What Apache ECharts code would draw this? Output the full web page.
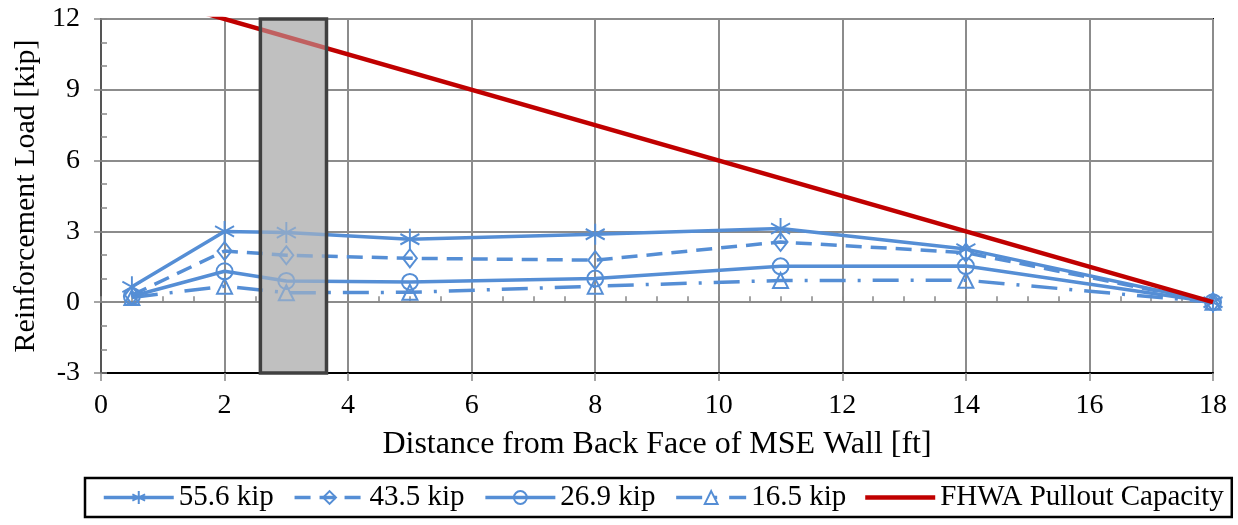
<!DOCTYPE html>
<html>
<head>
<meta charset="utf-8">
<script src="https://cdn.jsdelivr.net/npm/echarts@6/dist/echarts.min.js"></script>
<style>
html,body{margin:0;padding:0;background:#fff;}
#chart{width:1238px;height:525px;}
</style>
</head>
<body>
<div id="chart"></div>
<script>
const xValues = [0.5, 2, 3, 5, 8, 11, 14, 18];
const load556 = [0.65, 3.0, 2.95, 2.67, 2.88, 3.12, 2.25, 0];
const load435 = [0.3, 2.17, 1.99, 1.86, 1.78, 2.55, 2.1, 0];
const load269 = [0.25, 1.31, 0.9, 0.86, 1.0, 1.52, 1.53, 0];
const load165 = [0.2, 0.68, 0.4, 0.42, 0.68, 0.92, 0.93, 0];
const fhwaX = [0, 18];
const fhwaY = [13.5, 0];
const bandRange = [2.58, 3.65];
const seriesNames = ['55.6 kip', '43.5 kip', '26.9 kip', '16.5 kip', 'FHWA Pullout Capacity'];

const BLUE = '#558ed5';
const RED = '#c00000';
const FONT = 'Liberation Serif';

function pairs(xs, ys) { return xs.map((x, i) => [x, ys[i]]); }

const asterisk = 'path://M10,0L10,20M1.34,5L18.66,15M1.34,15L18.66,5';

function blueSeries(name, vals, symbol, size, dash) {
  return {
    name: name, type: 'line', data: pairs(xValues, vals),
    symbol: symbol, symbolSize: size, showSymbol: true,
    lineStyle: { color: BLUE, width: 3.5, type: dash },
    itemStyle: { color: 'rgba(255,255,255,0)', borderColor: BLUE, borderWidth: 2 },
    emphasis: { disabled: true }, z: 3, animation: false
  };
}

const chart = echarts.init(document.getElementById('chart'), null, { renderer: 'canvas' });
chart.setOption({
  animation: false,
  textStyle: { fontFamily: FONT },
  grid: { left: 101, right: 25, top: 19, bottom: 152, show: true, borderColor: '#000', borderWidth: 2, backgroundColor: 'transparent' },
  legend: {
    data: [
      { name: seriesNames[0] }, { name: seriesNames[1] }, { name: seriesNames[2] }, { name: seriesNames[3] },
      { name: seriesNames[4], icon: 'path://M0,0L70,0L70,4.5L0,4.5Z', itemStyle: { color: RED } }
    ],
    left: 85, top: 478,
    padding: [5, 8, 5, 17],
    itemGap: 19, itemWidth: 70, itemHeight: 16,
    borderColor: '#000', borderWidth: 2.5,
    lineStyle: { width: 3.5 },
    textStyle: { fontFamily: FONT, fontSize: 29, color: '#000' }
  },
  xAxis: [{
    type: 'value', min: 0, max: 18, interval: 2,
    name: 'Distance from Back Face of MSE Wall [ft]', nameLocation: 'middle', nameGap: 56,
    nameTextStyle: { fontFamily: FONT, fontSize: 32, color: '#000' },
    axisLine: { show: true, onZero: false, lineStyle: { color: '#000', width: 2 } },
    axisTick: { show: true, inside: false, length: 8, lineStyle: { color: '#888', width: 1.5 } },
    axisLabel: { fontFamily: FONT, fontSize: 28, color: '#000', margin: 19 },
    splitLine: { show: true, lineStyle: { color: '#8c8c8c', width: 2 } }
  }, {
    type: 'value', min: 0, max: 18, interval: 0.5, position: 'bottom',
    axisLine: { show: false }, axisLabel: { show: false }, splitLine: { show: false },
    axisTick: { show: true, inside: true, length: 6, lineStyle: { color: '#888', width: 1.5 } }
  }],
  yAxis: [{
    type: 'value', min: -3, max: 12, interval: 3,
    name: 'Reinforcement Load [kip]', nameLocation: 'middle', nameGap: 60,
    nameTextStyle: { fontFamily: FONT, fontSize: 30, color: '#000' },
    axisLine: { show: true, onZero: false, lineStyle: { color: '#555', width: 2 } },
    axisTick: { show: true, inside: false, length: 7, lineStyle: { color: '#888', width: 1.5 } },
    axisLabel: { fontFamily: FONT, fontSize: 28, color: '#000', margin: 21 },
    splitLine: { show: true, lineStyle: { color: '#8c8c8c', width: 2 } }
  }, {
    type: 'value', min: -3, max: 12, interval: 1, position: 'left',
    axisLine: { show: false }, axisLabel: { show: false }, splitLine: { show: false },
    axisTick: { show: true, inside: true, length: 6, lineStyle: { color: '#888', width: 1.5 } }
  }],
  series: [
    {
      name: 'bandBase', type: 'line', data: [], silent: true,
      markArea: {
        silent: true, z: 1,
        itemStyle: { color: '#c0c0c0', borderWidth: 0 },
        data: [[{ xAxis: bandRange[0], yAxis: -3 }, { xAxis: bandRange[1], yAxis: 12 }]]
      }
    },
    blueSeries(seriesNames[0], load556, asterisk, [19, 21], 'solid'),
    blueSeries(seriesNames[1], load435, 'diamond', [14, 18], [16, 9]),
    blueSeries(seriesNames[2], load269, 'circle', 16, 'solid'),
    blueSeries(seriesNames[3], load165, 'triangle', [15, 15], [26, 12, 3, 12]),
    {
      name: seriesNames[4], type: 'line', data: pairs(fhwaX, fhwaY), clip: true,
      symbol: 'none', lineStyle: { color: RED, width: 4.5 }, itemStyle: { color: RED },
      z: 4, animation: false
    },
    {
      name: 'bandTop', type: 'line', data: [], silent: true,
      markArea: {
        silent: true, z: 10,
        itemStyle: { color: 'rgba(192,192,192,0.5)', borderColor: '#404040', borderWidth: 3.5 },
        data: [[{ xAxis: bandRange[0], yAxis: -3 }, { xAxis: bandRange[1], yAxis: 12 }]]
      }
    }
  ]
});
</script>
</body>
</html>
